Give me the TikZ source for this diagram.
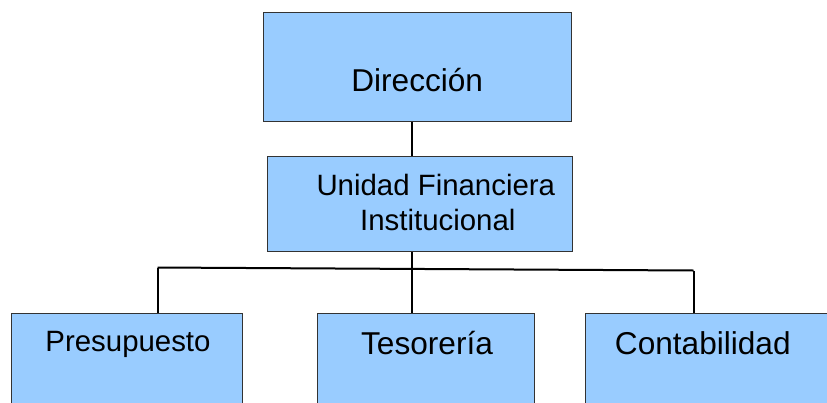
\documentclass[tikz,border=0pt]{standalone}
\usepackage{fontspec}
\setmainfont{Liberation Sans}
\usepackage{tikz}
\usetikzlibrary{positioning, calc}
\definecolor{azul}{HTML}{99CCFF}

\begin{document}
\begin{tikzpicture}[x=1pt, y=-1pt,
        caja/.style={draw=black!80, line width=1pt, fill=azul, inner sep=0pt},
        rotulo/.style={anchor=base, inner sep=0pt, font=\fontsize{31.6}{36}\selectfont},
        rotulochico/.style={rotulo, font=\fontsize{29.4}{34}\selectfont},
        linea/.style={draw=black, line width=2pt}]
        \useasboundingbox (0,0) rectangle (827,402);
        \clip (0,0) rectangle (827,402);

        \node[caja, minimum width=308pt, minimum height=109pt] (dir) at (417,66.5) {};
        \node[caja, minimum width=305pt, minimum height=95pt] (uf) at (420,204) {};
        \node[caja, minimum width=231pt, minimum height=120pt] (pre) at (127.2,373) {};
        \node[caja, minimum width=217pt, minimum height=120pt] (tes) at (426.2,373) {};
        \node[caja, minimum width=285pt, minimum height=120pt] (con) at (727.5,373) {};

        \node[rotulo] (tdir) at (417.2,91.7) {Dirección};
        \node[rotulochico] (tuf1) at (435.8,195) {Unidad Financiera};
        \node[rotulochico] (tuf2) at (437.8,230) {Institucional};
        \node[rotulochico] (tpre) at (128,351.7) {Presupuesto};
        \node[rotulo] (ttes) at (427,354.3) {Tesorería};
        \node[rotulo] (tcon) at (702.8,354.3) {Contabilidad};

        \coordinate (tronco) at (412,0);
        \coordinate (busL) at (157.5,267.5);
        \coordinate (busR) at (693.5,270.5);

        \path[linea]
        (dir.south -| tronco) edge (uf.north -| tronco)
        (uf.south -| tronco) edge (tes.north -| tronco)
        (busL) edge (busR)
        (busL) edge (pre.north -| busL)
        (busR) edge (con.north -| busR)
        ;
    \end{tikzpicture}
\end{document}
